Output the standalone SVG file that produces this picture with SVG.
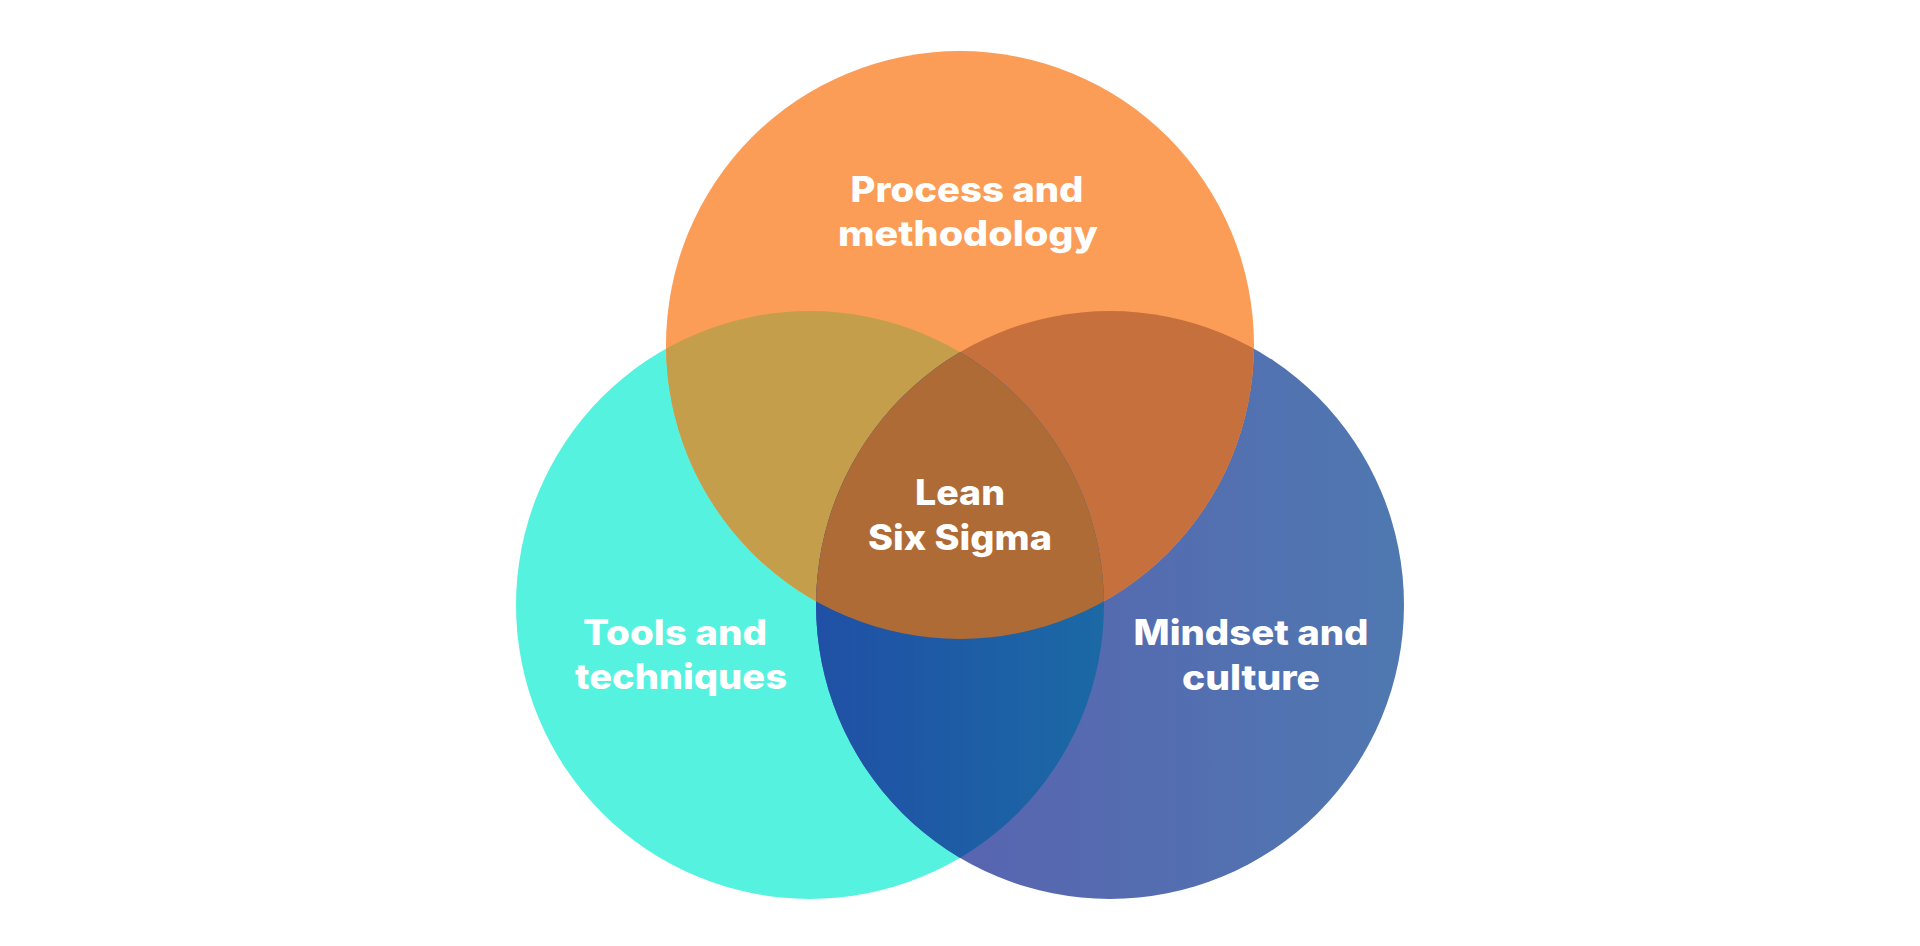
<svg xmlns="http://www.w3.org/2000/svg" width="1920" height="946" viewBox="0 0 1920 946">
  <style>
    .lbl { font-family: Inter, "Open Sans", "Noto Sans", sans-serif; font-weight: 800; font-size: 35px; fill: #ffffff; text-anchor: middle; }
  </style>
  <defs>
    <linearGradient id="gBlue" gradientUnits="userSpaceOnUse" x1="816" y1="0" x2="1404" y2="0">
      <stop offset="0" stop-color="#5B5EB0"/>
      <stop offset="1" stop-color="#4F78B0"/>
    </linearGradient>
    <linearGradient id="gTB" gradientUnits="userSpaceOnUse" x1="816" y1="0" x2="1104" y2="0">
      <stop offset="0" stop-color="#2050A5"/>
      <stop offset="1" stop-color="#1B69A5"/>
    </linearGradient>
    <clipPath id="cT"><circle cx="810" cy="605" r="294"/></clipPath>
    <clipPath id="cB"><circle cx="1110" cy="605" r="294"/></clipPath>
  </defs>
  <rect width="1920" height="946" fill="#ffffff"/>

  <g id="node-tools">
    <circle cx="810" cy="605" r="294" fill="#56F2E0"/>
    <text class="lbl" x="675" y="645" textLength="184" lengthAdjust="spacingAndGlyphs">Tools and</text>
    <text class="lbl" x="681" y="689" textLength="212" lengthAdjust="spacingAndGlyphs">techniques</text>
  </g>

  <g id="node-mindset">
    <circle cx="1110" cy="605" r="294" fill="url(#gBlue)"/>
    <text class="lbl" x="1251" y="645" textLength="235" lengthAdjust="spacingAndGlyphs">Mindset and</text>
    <text class="lbl" x="1251" y="690" textLength="138" lengthAdjust="spacingAndGlyphs">culture</text>
  </g>

  <g id="node-process">
    <circle cx="960" cy="345" r="294" fill="#FB9D57"/>
    <text class="lbl" x="967" y="202" textLength="233" lengthAdjust="spacingAndGlyphs">Process and</text>
    <text class="lbl" x="968" y="246" textLength="260" lengthAdjust="spacingAndGlyphs">methodology</text>
  </g>

  <g id="overlaps">
    <circle cx="960" cy="345" r="294" fill="#C59E4B" clip-path="url(#cT)"/>
    <circle cx="960" cy="345" r="294" fill="#C6703D" clip-path="url(#cB)"/>
    <circle cx="810" cy="605" r="294" fill="url(#gTB)" clip-path="url(#cB)"/>
  </g>

  <g id="node-lean-six-sigma">
    <g clip-path="url(#cB)">
      <circle cx="960" cy="345" r="294" fill="#AF6B36" clip-path="url(#cT)"/>
    </g>
    <text class="lbl" x="960" y="505" textLength="90" lengthAdjust="spacingAndGlyphs">Lean</text>
    <text class="lbl" x="960" y="550" textLength="184" lengthAdjust="spacingAndGlyphs">Six Sigma</text>
  </g>
</svg>
